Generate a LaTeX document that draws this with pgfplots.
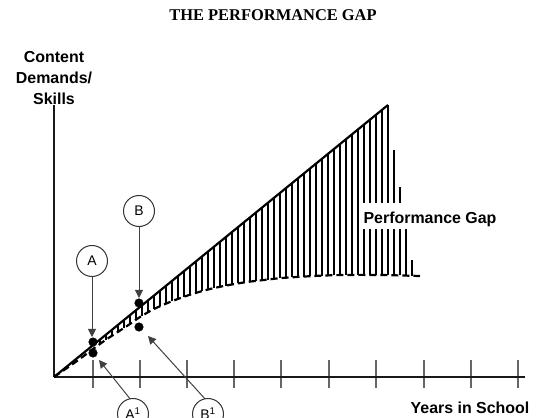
\documentclass[border=0pt]{standalone}
\usepackage{pgfplots}
\pgfplotsset{compat=1.18}
\usepackage{fontspec}
\setmainfont{Liberation Sans}
\newfontfamily\titlefont{Liberation Serif}
\usetikzlibrary{arrows.meta}
\begin{document}
\begin{tikzpicture}
\useasboundingbox (0,0) rectangle (538bp,418bp);
% title and labels
\node[anchor=base, font=\titlefont\bfseries\fontsize{16.5}{18}\selectfont] at (273bp,397bp) {THE PERFORMANCE GAP};
\node[anchor=base, font=\bfseries\fontsize{16}{18}\selectfont] at (54bp,355bp) {Content};
\node[anchor=base, font=\bfseries\fontsize{16}{18}\selectfont] at (54bp,334bp) {Demands/};
\node[anchor=base, font=\bfseries\fontsize{16}{18}\selectfont] at (54bp,313bp) {Skills};
\node[anchor=base, font=\bfseries\fontsize{16}{18}\selectfont] at (470bp,5bp) {Years in School};
\begin{axis}[
  at={(54bp,41bp)}, anchor=south west,
  x=1bp, y=1bp,
  xmin=0, xmax=471, ymin=0, ymax=272,
  axis lines=left,
  axis line style={-, line width=2.5bp, color=black!90},
  xtick={39,86,133,180,227,275,322,370,417,464},
  xticklabels={},
  ytick=\empty,
  major tick length=28bp,
  tick align=center,
  xtick style={line width=1.3bp, color=black!60, yshift=3bp},
  clip=false,
]
% hatching between the two curves
\addplot[line width=1.3bp, black, unbounded coords=jump] table {
x y
46 33.0
46 37.5
46 nan
52 37.3
52 42.3
52 nan
58 41.3
58 47.2
58 nan
64 45.2
64 52.1
64 nan
70 49.0
70 57.0
70 nan
76 53.1
76 61.9
76 nan
82 57.2
82 66.8
82 nan
88 61.1
88 71.7
88 nan
94 64.6
94 76.6
94 nan
100 68.0
100 81.4
100 nan
106 70.6
106 86.3
106 nan
112 73.3
112 91.2
112 nan
118 75.7
118 96.1
118 nan
124 77.9
124 101.0
124 nan
130 80.2
130 105.9
130 nan
136 82.3
136 110.8
136 nan
142 84.0
142 115.6
142 nan
148 85.7
148 120.5
148 nan
154 87.4
154 125.4
154 nan
160 88.8
160 130.3
160 nan
166 90.1
166 135.2
166 nan
172 91.4
172 140.1
172 nan
178 92.5
178 145.0
178 nan
184 93.5
184 149.8
184 nan
190 94.5
190 154.7
190 nan
196 95.4
196 159.6
196 nan
202 96.1
202 164.5
202 nan
208 96.8
208 169.4
208 nan
214 97.4
214 174.3
214 nan
220 98.1
220 179.2
220 nan
226 98.8
226 184.1
226 nan
232 99.3
232 188.9
232 nan
238 99.6
238 193.8
238 nan
244 100.0
244 198.7
244 nan
250 100.4
250 203.6
250 nan
256 100.8
256 208.5
256 nan
262 101.1
262 213.4
262 nan
268 101.3
268 218.3
268 nan
274 101.5
274 223.1
274 nan
280 101.7
280 228.0
280 nan
286 101.9
286 232.9
286 nan
292 102.0
292 237.8
292 nan
298 102.0
298 242.7
298 nan
304 102.0
304 247.6
304 nan
310 102.0
310 252.5
310 nan
316 102.0
316 257.4
316 nan
322 102.0
322 262.2
322 nan
328 102.0
328 267.1
328 nan
334 101.8
334 272.0
334 nan
340 101.7
340 227
340 nan
346 101.5
346 190
346 nan
352 101.4
352 148
352 nan
358 101.2
358 117
};
% content demands (solid line)
\addplot[line width=2.2bp, black] coordinates {(0,0) (334,272)};
% skills (dashed curve)
\addplot[line width=2.2bp, black, dash pattern=on 7bp off 4bp, smooth] coordinates {
(0,0) (23,16) (39,28) (53,38) (73,51) (86,60) (100,68) (116,75) (135,82) (156,88)
(175,92) (193,95) (210,97) (228,99) (260,101) (289,102) (326,102) (366,101)};
% points A, A1, B, B1
\addplot[only marks, mark=*, mark size=4.3bp, black] coordinates {(39,35) (39,24) (85,74) (85,50)};
% performance gap label
\node[anchor=base, fill=white, inner xsep=2bp, inner ysep=0pt, text height=20bp, text depth=6.5bp,
  font=\bfseries\fontsize{16}{18}\selectfont] at (axis cs:376,154) {Performance Gap};
% callouts
\tikzset{callout/.style={circle, draw=black!80, line width=1bp, minimum size=31bp, inner sep=0pt, fill=white,
  font=\fontsize{14}{16}\selectfont}}
\draw[line width=1bp, black!75, -{Triangle[width=8bp,length=8bp]}] (axis cs:38,100) -- (axis cs:38,40);
\draw[line width=1bp, black!75, -{Triangle[width=8bp,length=8bp]}] (axis cs:85,150) -- (axis cs:85,79);
\draw[line width=1bp, black!75, -{Triangle[width=8bp,length=8bp]}] (axis cs:77,-23) -- (axis cs:45,17);
\draw[line width=1bp, black!75, -{Triangle[width=8bp,length=8bp]}] (axis cs:152,-23) -- (axis cs:94,41);
\node[callout] at (axis cs:79,-37) {A\textsuperscript{1}};
\node[callout] at (axis cs:154,-37) {B\textsuperscript{1}};
\node[callout] at (axis cs:38,116) {A};
\node[callout] at (axis cs:85,166) {B};
\end{axis}
\end{tikzpicture}
\end{document}
